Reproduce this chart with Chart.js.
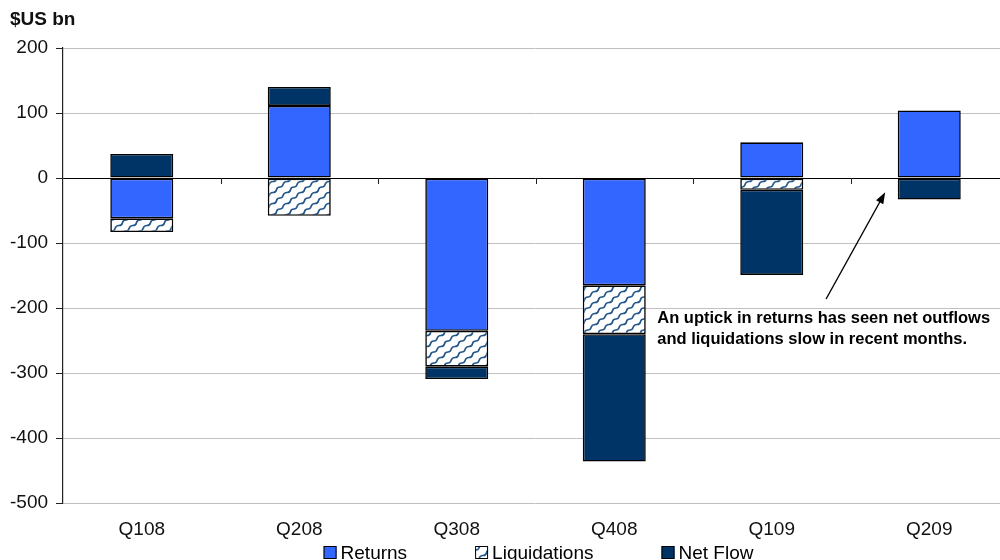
<!DOCTYPE html>
<html>
<head>
<meta charset="utf-8">
<script src="https://cdn.jsdelivr.net/npm/chart.js@4.4.1/dist/chart.umd.min.js"></script>
<style>
  html, body { margin: 0; padding: 0; background: #fff; overflow: hidden; }
  #wrap { width: 1008px; height: 560px; position: relative; }
</style>
</head>
<body>
<div id="wrap"><canvas id="chart"></canvas></div>
<script>
  // data
  const categories = ['Q108', 'Q208', 'Q308', 'Q408', 'Q109', 'Q209'];
  const returnsData = [-62, 111, -235, -165, 55, 104];
  const liquidationsData = [-21, -58, -55, -75, -18, null];
  const netFlowData = [37, 29, -19, -196, -131, -33];
  const yMin = -500, yMax = 200, yStep = 100;

  const axisTitle = '$US bn';

  // annotation (data units: x = category index, y = $US bn)
  const noteLines = ['An uptick in returns has seen net outflows', 'and liquidations slow in recent months.'];
  const noteAt = { x: 3.273, y: -223 };
  const arrowFrom = { x: 4.345, y: -186 };
  const arrowTo = { x: 4.72, y: -22 };

  const FONT = 'Arial, "Liberation Sans", sans-serif';
  const RETURNS_COLOR = '#3366ff';
  const NET_COLOR = '#003366';

  function makeWavePattern(){
    const w = 14, h = 11;
    const c = document.createElement('canvas');
    c.width = w; c.height = h;
    const g = c.getContext('2d');
    g.fillStyle = '#fff';
    g.fillRect(0, 0, w, h);
    g.strokeStyle = '#24568a';
    g.lineWidth = 1.6;
    [-h, 0, h].forEach(dy => {
      g.beginPath();
      g.moveTo(0, h + dy);
      g.bezierCurveTo(5, h + dy, 1, h / 2 + dy, 7, h / 2 + dy);
      g.bezierCurveTo(13, h / 2 + dy, 8, dy, w, dy);
      g.stroke();
    });
    return g.createPattern(c, 'repeat');
  }
  const wave = makeWavePattern();

  // title, small ticks on the zero line, the arrow note and the legend
  const extras = {
    id: 'extras',
    afterDatasetsDraw(chart){
      const {ctx, scales: {x, y}, chartArea} = chart;
      ctx.save();

      // axis title
      ctx.fillStyle = '#111';
      ctx.font = 'bold 19px ' + FONT;
      ctx.textAlign = 'left';
      ctx.textBaseline = 'middle';
      ctx.fillText(axisTitle, 10, 20);

      // category boundary ticks on the zero line
      const y0 = y.getPixelForValue(0);
      ctx.strokeStyle = '#222';
      ctx.lineWidth = 1;
      for(let i = 0; i < categories.length - 1; i++){
        const bx = Math.round((x.getPixelForValue(i) + x.getPixelForValue(i + 1)) / 2) + 0.5;
        ctx.beginPath();
        ctx.moveTo(bx, y0);
        ctx.lineTo(bx, y0 + 6);
        ctx.stroke();
      }

      // note text
      ctx.fillStyle = '#000';
      ctx.font = 'bold 16.5px ' + FONT;
      ctx.textBaseline = 'alphabetic';
      const tx = x.getPixelForValue(noteAt.x);
      const ty = y.getPixelForValue(noteAt.y);
      noteLines.forEach((l, i) => ctx.fillText(l, tx, ty + i * 20.7));

      // arrow
      const ax0 = x.getPixelForValue(arrowFrom.x), ay0 = y.getPixelForValue(arrowFrom.y);
      const ax1 = x.getPixelForValue(arrowTo.x), ay1 = y.getPixelForValue(arrowTo.y);
      const ang = Math.atan2(ay1 - ay0, ax1 - ax0);
      const head = 12;
      ctx.strokeStyle = '#000';
      ctx.lineWidth = 1.4;
      ctx.beginPath();
      ctx.moveTo(ax0, ay0);
      ctx.lineTo(ax1 - Math.cos(ang) * head * 0.8, ay1 - Math.sin(ang) * head * 0.8);
      ctx.stroke();
      ctx.beginPath();
      ctx.moveTo(ax1, ay1);
      ctx.lineTo(ax1 - head * Math.cos(ang - 0.35), ay1 - head * Math.sin(ang - 0.35));
      ctx.lineTo(ax1 - head * Math.cos(ang + 0.35), ay1 - head * Math.sin(ang + 0.35));
      ctx.closePath();
      ctx.fillStyle = '#000';
      ctx.fill();

      // legend
      ctx.font = '19px ' + FONT;
      const box = 13, gap = 4, spacing = 68;
      const items = chart.data.datasets.map(d => ({label: d.label, fill: d.backgroundColor, w: box + gap + ctx.measureText(d.label).width}));
      const total = items.reduce((s, it) => s + it.w, 0) + spacing * (items.length - 1);
      let lx = (chartArea.left + chartArea.right) / 2 - total / 2 + 3;
      const base = 558.5;
      items.forEach(it => {
        ctx.fillStyle = it.fill;
        ctx.fillRect(lx, base - 12.5, box, box);
        ctx.strokeStyle = '#000';
        ctx.lineWidth = 1;
        ctx.strokeRect(lx + 0.5, base - 12, box - 1, box - 1);
        ctx.fillStyle = '#000';
        ctx.fillText(it.label, lx + box + gap, base);
        lx += it.w + spacing;
      });

      ctx.restore();
    }
  };

  const barStyle = { borderColor: '#000', borderWidth: 1.6, borderSkipped: false, barPercentage: 0.4, categoryPercentage: 1 };

  new Chart(document.getElementById('chart'), {
    type: 'bar',
    data: {
      labels: categories,
      datasets: [
        { label: 'Returns', data: returnsData, backgroundColor: RETURNS_COLOR, ...barStyle },
        { label: 'Liquidations', data: liquidationsData, backgroundColor: wave, ...barStyle },
        { label: 'Net Flow', data: netFlowData, backgroundColor: NET_COLOR, ...barStyle }
      ]
    },
    options: {
      responsive: true,
      maintainAspectRatio: false,
      animation: false,
      layout: { padding: { left: 2, top: 48, right: 0, bottom: 4 } },
      plugins: {
        legend: { display: false },
        tooltip: { enabled: false },
        title: { display: false }
      },
      scales: {
        x: {
          stacked: true,
          grid: { display: false, drawTicks: false },
          border: { display: false },
          ticks: { color: '#111', font: { family: FONT, size: 19 }, padding: 15 }
        },
        y: {
          stacked: true,
          min: yMin,
          max: yMax,
          ticks: { stepSize: yStep, color: '#111', font: { family: FONT, size: 19 }, padding: 8 },
          grid: {
            color: c => c.tick && c.tick.value === 0 ? '#000' : '#c0c0c0',
            tickColor: '#222',
            tickLength: 7,
            lineWidth: 1
          },
          border: { color: '#222', width: 1.2 }
        }
      }
    },
    plugins: [extras]
  });
</script>
</body>
</html>
